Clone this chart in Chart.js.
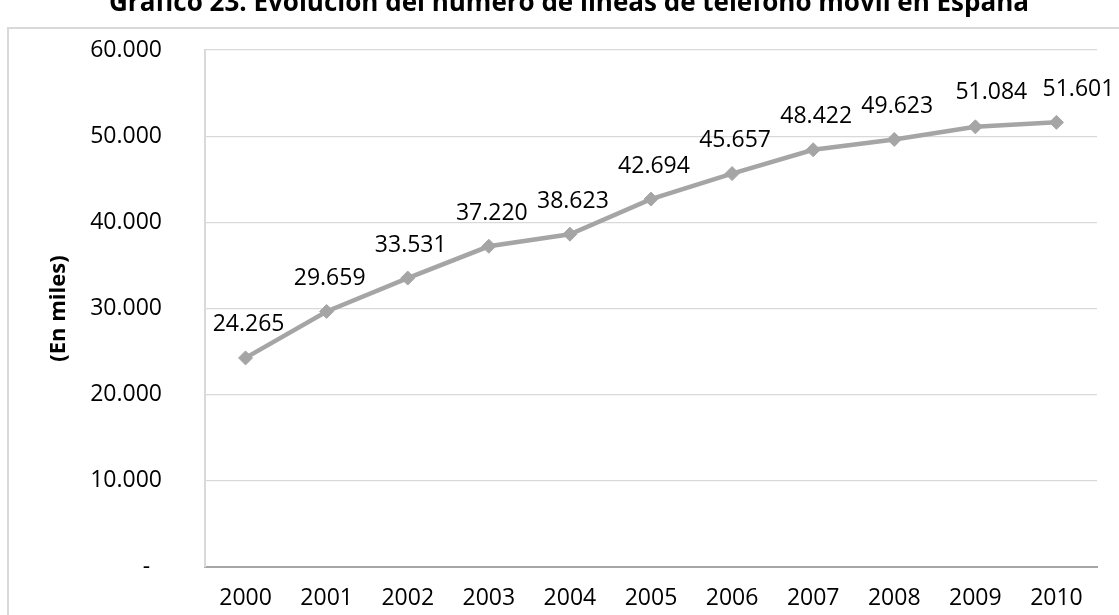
<!DOCTYPE html>
<html lang="es">
<head>
<meta charset="utf-8">
<title>Líneas de teléfono móvil en España</title>
<script src="https://cdn.jsdelivr.net/npm/chart.js@4/dist/chart.umd.min.js"></script>
<style>
  html, body { margin: 0; padding: 0; background: #ffffff; overflow: hidden; }
  #stage { position: relative; width: 1119px; height: 615px; overflow: hidden; }
  #frame {
    position: absolute; left: 7px; top: 27px; width: 1200px; height: 700px;
    border: 2px solid #d9d9d9; box-sizing: border-box;
  }
  #chart { position: absolute; left: 0; top: 0; }
</style>
</head>
<body>
<div id="stage">
  <div id="frame"></div>
  <canvas id="chart" width="1119" height="615"></canvas>
</div>
<script>
// Mobile phone lines in Spain, thousands
const years = ['2000', '2001', '2002', '2003', '2004', '2005', '2006', '2007', '2008', '2009', '2010'];
const lines = [24265, 29659, 33531, 37220, 38623, 42694, 45657, 48422, 49623, 51084, 51601];
const yTicks = [0, 10000, 20000, 30000, 40000, 50000, 60000];

const chartTitle = 'Gráfico 23. Evolución del número de líneas de teléfono móvil en España';
const axisTitle = '(En miles)';

const FONT = '"Open Sans", "Noto Sans", sans-serif';

function fmtThousands(v) {
  if (v === 0) return '-  ';
  return String(Math.round(v)).replace(/\B(?=(\d{3})+(?!\d))/g, '.');
}

// Title sits at the very top of the canvas
const titlePlugin = {
  id: 'topTitle',
  afterDraw(chart) {
    const ctx = chart.ctx;
    ctx.save();
    ctx.font = 'bold 26px ' + FONT;
    ctx.fillStyle = '#000000';
    ctx.textAlign = 'center';
    ctx.textBaseline = 'alphabetic';
    ctx.fillText(chartTitle, 569, 11);
    ctx.restore();
  }
};

// Value labels above each point
const valueLabels = {
  id: 'valueLabels',
  afterDatasetsDraw(chart, args, opts) {
    const ctx = chart.ctx;
    const meta = chart.getDatasetMeta(0);
    const ds = chart.data.datasets[0];
    ctx.save();
    ctx.font = '23px ' + FONT;
    ctx.fillStyle = '#000000';
    ctx.textAlign = 'center';
    ctx.textBaseline = 'middle';
    meta.data.forEach((pt, i) => {
      const nudge = (opts.nudge && opts.nudge[i]) || [3, -33];
      ctx.fillText(fmtThousands(ds.data[i]), pt.x + nudge[0], pt.y + nudge[1]);
    });
    ctx.restore();
  }
};

new Chart(document.getElementById('chart'), {
  type: 'line',
  data: {
    labels: years,
    datasets: [{
      data: lines,
      borderColor: '#a5a5a5',
      backgroundColor: '#a5a5a5',
      borderWidth: 4.5,
      pointStyle: 'rectRot',
      pointRadius: 7,
      pointBorderWidth: 1,
      pointBorderColor: '#a5a5a5',
      pointBackgroundColor: '#a5a5a5',
      tension: 0,
      fill: false
    }]
  },
  options: {
    responsive: false,
    animation: false,
    devicePixelRatio: 1,
    layout: { padding: { top: 50, right: 22, left: 0, bottom: 0 } },
    plugins: {
      legend: { display: false },
      title: { display: false },
      tooltip: { enabled: false },
      valueLabels: { nudge: { 9: [16, -34], 10: [22, -33] } }
    },
    scales: {
      x: {
        offset: true,
        grid: { display: false, drawTicks: false },
        border: { display: true, color: '#a6a6a6', width: 2 },
        ticks: { color: '#000000', font: { family: FONT, size: 23 }, padding: 18, maxRotation: 0 },
        afterFit(scale) { scale.height = 48; }
      },
      y: {
        min: 0,
        max: 60000,
        afterBuildTicks(scale) { scale.ticks = yTicks.map(v => ({ value: v })); },
        grid: { color: '#d9d9d9', lineWidth: 1.3, drawTicks: false },
        border: { display: true, color: '#d9d9d9', width: 2 },
        ticks: {
          color: '#000000',
          font: { family: FONT, size: 23 },
          padding: 43,
          callback: v => fmtThousands(v)
        },
        title: {
          display: true,
          text: axisTitle,
          color: '#000000',
          font: { family: FONT, size: 22, weight: 'bold' },
          padding: { top: 46, bottom: 0 }
        },
        afterFit(scale) {
          scale.width = 205;
          // the wide label gap should not push the plot area inward
          scale.paddingTop = 14;
          scale.paddingBottom = 14;
        }
      }
    }
  },
  plugins: [titlePlugin, valueLabels]
});
</script>
</body>
</html>
